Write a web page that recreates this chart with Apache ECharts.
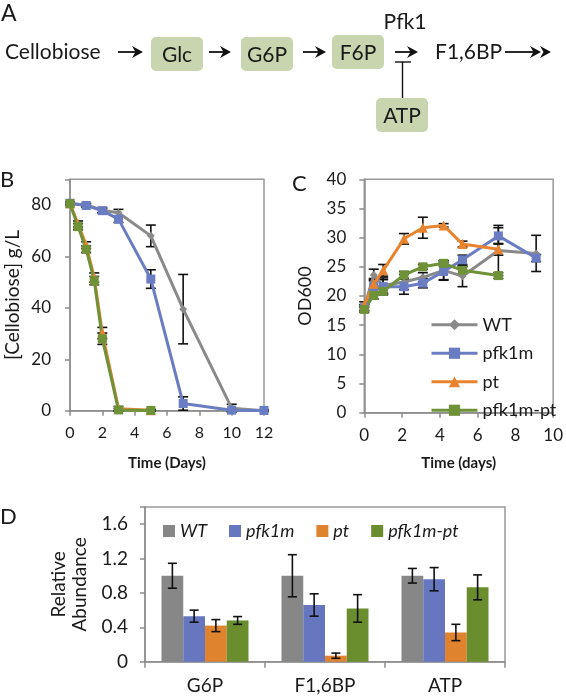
<!DOCTYPE html>
<html>
<head>
<meta charset="utf-8">
<script src="https://cdn.jsdelivr.net/npm/echarts@6/dist/echarts.min.js"></script>
<style>
html,body{margin:0;padding:0;background:#fff;}
#main{width:566px;height:697px;}
</style>
</head>
<body>
<div id="main"></div>
<script>
// ---------- DATA ----------
// Panel B: cellobiose consumption (g/L) vs time (days)
const bTimesLate = [0, 1, 2, 3, 5, 7, 10, 12];
const bTimesEarly = [0, 0.5, 1, 1.5, 2, 3, 5];
const bWT = [80.5, 80, 78, 77, 68, 39.5, 1, 0];
const bWTErr = [0.5, 0.6, 1, 1.3, 4.2, 13.5, 1.5, 0.3];
const bPfk1m = [80.7, 79.8, 77.8, 74.5, 51.2, 2.8, 0.2, 0.1];
const bPfk1mErr = [0.5, 0.6, 0.8, 1.3, 3.6, 2.6, 0.5, 0.3];
const bPt = [80.7, 72.6, 64.4, 51.8, 30.2, 0.8, 0.2];
const bPtErr = [0.5, 1.2, 1.3, 1.8, 2.2, 0.8, 0.3];
const bPfk1mPt = [80.5, 71.6, 62.8, 50.6, 28, 0.3, 0.1];
const bPfk1mPtErr = [0.5, 1.2, 1.3, 1.6, 2.2, 0.5, 0.3];

// Panel C: OD600 vs time (days)
const cTimes = [0, 0.5, 1, 2.1, 3.1, 4.2, 5.2, 7.1, 9.1];
const cWT = [18, 23.6, 21.8, 22.4, 23.2, 24.4, 23.4, 27.8, 27.3];
const cWTErr = [0.5, 1, 1.3, 1.3, 0.8, 1.6, 1.8, 4.3, 3.1];
const cPfk1m = [18, 21.6, 21.6, 21.6, 22.2, 24.2, 26.2, 30.3, 26.5];
const cPfk1mErr = [0.5, 1.2, 1.2, 1.3, 0.8, 1.5, 0.8, 1.4, 0.6];
const cPt = [18.5, 22.1, 24.4, 29.8, 31.7, 32.1, 28.9, 28];
const cPtErr = [0.5, 0.9, 1, 0.9, 1.8, 0.3, 0.5, 1];
const cPfk1mPt = [17.7, 20.1, 20.8, 23.6, 25, 25.6, 24.4, 23.5];
const cPfk1mPtErr = [0.5, 0.6, 0.6, 0.6, 0.4, 0.5, 0.6, 0.5];

// Panel D: relative metabolite abundance
const dCategories = ['G6P', 'F1,6BP', 'ATP'];
const dWT = [1.0, 1.0, 1.0];
const dWTErr = [0.145, 0.245, 0.085];
const dPfk1m = [0.53, 0.66, 0.96];
const dPfk1mErr = [0.07, 0.13, 0.135];
const dPt = [0.42, 0.07, 0.34];
const dPtErr = [0.07, 0.03, 0.095];
const dPfk1mPt = [0.48, 0.62, 0.865];
const dPfk1mPtErr = [0.045, 0.16, 0.145];

const seriesNames = ['WT', 'pfk1m', 'pt', 'pfk1m-pt'];
const bYTicks = [0, 20, 40, 60, 80];
const dYTicks = [0, 0.4, 0.8, 1.2, 1.6];

// ---------- STYLE ----------
const FONT = 'Lato, "Open Sans", sans-serif';
const TXT = '#1a1a1a';
const lineColors = ['#8a8a8a', '#6a7cc2', '#e8842f', '#6f9238'];
const barColors = ['#878787', '#6677bf', '#e0832e', '#6a8e2e'];
const symbols = ['diamond', 'rect', 'triangle', 'rect'];
const symbolSizes = [8, 9, 10, 9];
const BOX = '#c8d5ae';

const chart = echarts.init(document.getElementById('main'), null, {renderer: 'canvas'});

function pairs(xs, ys) { return ys.map((v, i) => [xs[i], v]); }
function errTriples(xs, ys, es) { return ys.map((v, i) => [xs[i], v - es[i], v + es[i]]); }

function errRender(capW) {
  return function (params, api) {
    const x = api.value(0), lo = api.value(1), hi = api.value(2);
    const p1 = api.coord([x, hi]), p2 = api.coord([x, lo]);
    const st = {stroke: '#111', lineWidth: 1.6};
    return {type: 'group', children: [
      {type: 'line', shape: {x1: p1[0], y1: p1[1], x2: p2[0], y2: p2[1]}, style: st},
      {type: 'line', shape: {x1: p1[0] - capW, y1: p1[1], x2: p1[0] + capW, y2: p1[1]}, style: st},
      {type: 'line', shape: {x1: p2[0] - capW, y1: p2[1], x2: p2[0] + capW, y2: p2[1]}, style: st}
    ]};
  };
}

const series = [];
// Panel B lines
const bSets = [
  [bTimesLate, bWT, bWTErr],
  [bTimesLate, bPfk1m, bPfk1mErr],
  [bTimesEarly, bPt, bPtErr],
  [bTimesEarly, bPfk1mPt, bPfk1mPtErr]
];
bSets.forEach((s, i) => {
  series.push({
    type: 'custom', xAxisIndex: 0, yAxisIndex: 0, z: 1, silent: true,
    renderItem: errRender(5), encode: {x: 0, y: [1, 2]},
    data: errTriples(s[0], s[1], s[2])
  });
});
bSets.forEach((s, i) => {
  series.push({
    name: seriesNames[i], type: 'line', xAxisIndex: 0, yAxisIndex: 0, z: 3,
    data: pairs(s[0], s[1]), symbol: symbols[i], symbolSize: symbolSizes[i],
    lineStyle: {width: 3, color: lineColors[i]}, itemStyle: {color: lineColors[i]},
    animation: false
  });
});
// Panel C lines
const cSets = [
  [cTimes, cWT, cWTErr],
  [cTimes, cPfk1m, cPfk1mErr],
  [cTimes, cPt, cPtErr],
  [cTimes, cPfk1mPt, cPfk1mPtErr]
];
cSets.forEach((s, i) => {
  series.push({
    type: 'custom', xAxisIndex: 1, yAxisIndex: 1, z: 1, silent: true,
    renderItem: errRender(5), encode: {x: 0, y: [1, 2]},
    data: errTriples(s[0], s[1], s[2])
  });
});
cSets.forEach((s, i) => {
  series.push({
    name: seriesNames[i], type: 'line', xAxisIndex: 1, yAxisIndex: 1, z: 3,
    data: pairs(s[0], s[1]), symbol: symbols[i], symbolSize: symbolSizes[i],
    lineStyle: {width: 3, color: lineColors[i]}, itemStyle: {color: lineColors[i]},
    animation: false
  });
});
// Panel D bars
const dSets = [[dWT, dWTErr], [dPfk1m, dPfk1mErr], [dPt, dPtErr], [dPfk1mPt, dPfk1mPtErr]];
const CAT_GAP = 0.275;
dSets.forEach((s, i) => {
  series.push({
    name: seriesNames[i], type: 'bar', xAxisIndex: 2, yAxisIndex: 2,
    data: s[0], barGap: '0%', barCategoryGap: (CAT_GAP * 100) + '%',
    itemStyle: {color: barColors[i]}, animation: false
  });
});
const dErrData = [];
dSets.forEach((s, g) => s[0].forEach((v, c) => dErrData.push([c, v - s[1][c], v + s[1][c], g])));
series.push({
  type: 'custom', xAxisIndex: 2, yAxisIndex: 2, z: 5, silent: true,
  encode: {x: 0, y: [1, 2]}, data: dErrData,
  renderItem: function (params, api) {
    const c = api.value(0), lo = api.value(1), hi = api.value(2), g = api.value(3);
    const catW = api.size([1, 0])[0];
    const bw = catW * (1 - CAT_GAP) / 4;
    const p1 = api.coord([c, hi]), p2 = api.coord([c, lo]);
    const x = p1[0] + (g - 1.5) * bw;
    const cap = 4.5;
    const st = {stroke: '#111', lineWidth: 1.6};
    return {type: 'group', children: [
      {type: 'line', shape: {x1: x, y1: p1[1], x2: x, y2: p2[1]}, style: st},
      {type: 'line', shape: {x1: x - cap, y1: p1[1], x2: x + cap, y2: p1[1]}, style: st},
      {type: 'line', shape: {x1: x - cap, y1: p2[1], x2: x + cap, y2: p2[1]}, style: st}
    ]};
  }
});

const axisLineStyle = {lineStyle: {color: '#8c8c8c', width: 1.5}};
const tickStyle = {show: true, inside: false, length: 5, lineStyle: {color: '#8c8c8c', width: 1.5}};
const labelBase = {color: TXT, fontFamily: FONT, fontSize: 16};

// ---------- PANEL A DIAGRAM ----------
function arrow(x1, x2, y) {
  return [
    {type: 'line', shape: {x1: x1, y1: y, x2: x2 - 4, y2: y}, style: {stroke: '#111', lineWidth: 1.8}},
    {type: 'polygon', shape: {points: [[x2, y], [x2 - 11, y - 6], [x2 - 7.5, y], [x2 - 11, y + 6]]}, style: {fill: '#111'}}
  ];
}
function box(x, y, w, h, label) {
  return [
    {type: 'rect', shape: {x: x, y: y, width: w, height: h, r: 5}, style: {fill: BOX}},
    {type: 'text', style: {text: label, x: x + w / 2, y: y + h / 2 + 1, textAlign: 'center', textVerticalAlign: 'middle', font: '21px ' + FONT, fill: TXT}}
  ];
}
function txt(s, x, y, size, align, extra) {
  return Object.assign({type: 'text', style: {text: s, x: x, y: y, textAlign: align || 'left', textVerticalAlign: 'middle', font: size + 'px ' + FONT, fill: TXT}}, extra || {});
}
const graphics = [].concat(
  [txt('A', 1, 14, 23)],
  [txt('Cellobiose', 5, 52, 21)],
  arrow(118, 143, 52),
  box(151, 37, 52, 34, 'Glc'),
  arrow(209, 231, 52),
  box(241, 37, 52, 34, 'G6P'),
  arrow(303, 326, 52),
  box(332, 35, 52, 34, 'F6P'),
  arrow(395, 418, 52),
  [txt('Pfk1', 405, 22, 21, 'center')],
  [{type: 'line', shape: {x1: 395, y1: 62, x2: 411, y2: 62}, style: {stroke: '#111', lineWidth: 1.4}},
   {type: 'line', shape: {x1: 402.5, y1: 62, x2: 402.5, y2: 98}, style: {stroke: '#111', lineWidth: 1.4}}],
  box(376, 98, 52, 34, 'ATP'),
  [txt('F1,6BP', 435, 52, 21)],
  arrow(505, 541, 52),
  [{type: 'polygon', shape: {points: [[551, 52], [540, 46], [543.5, 52], [540, 58]]}, style: {fill: '#111'}}],
  [txt('B', 0, 180, 22)],
  [txt('C', 292, 184, 22)],
  [txt('D', 0, 517, 22)]
);

const option = {
  backgroundColor: '#fff',
  animation: false,
  textStyle: {fontFamily: FONT},
  graphic: graphics,
  grid: [
    {left: 70, top: 179.3, width: 194, height: 231.4, show: true, borderColor: '#999', borderWidth: 1.5, backgroundColor: 'transparent'},
    {left: 364.3, top: 179.3, width: 192.4, height: 233.4, show: true, borderColor: '#999', borderWidth: 1.5, backgroundColor: 'transparent'},
    {left: 145, top: 507, width: 360, height: 154.7, show: true, borderColor: '#999', borderWidth: 1.5, backgroundColor: 'transparent'}
  ],
  xAxis: [
    {gridIndex: 0, type: 'value', min: 0, max: 12, interval: 2, axisLine: axisLineStyle, axisTick: tickStyle, splitLine: {show: false},
     axisLabel: Object.assign({margin: 14}, labelBase),
     name: 'Time (Days)', nameLocation: 'middle', nameGap: 45, nameTextStyle: {color: TXT, fontFamily: FONT, fontSize: 15, fontWeight: 'bold'}},
    {gridIndex: 1, type: 'value', min: 0, max: 10, interval: 2, axisLine: axisLineStyle, axisTick: tickStyle, splitLine: {show: false},
     axisLabel: Object.assign({margin: 14}, labelBase, {fontSize: 17}),
     name: 'Time (days)', nameLocation: 'middle', nameGap: 43, nameTextStyle: {color: TXT, fontFamily: FONT, fontSize: 15, fontWeight: 'bold'}},
    {gridIndex: 2, type: 'category', data: dCategories, axisLine: axisLineStyle,
     axisTick: {show: true, length: 6, lineStyle: {color: '#8c8c8c', width: 1.5}},
     axisLabel: Object.assign({}, labelBase, {fontSize: 19, margin: 15})}
  ],
  yAxis: [
    {gridIndex: 0, type: 'value', min: 0, max: 90, interval: 20, axisLine: Object.assign({show: true}, axisLineStyle), axisTick: tickStyle, splitLine: {show: false},
     axisLabel: Object.assign({margin: 19, formatter: v => (bYTicks.indexOf(v) >= 0 ? String(v) : '')}, labelBase, {fontSize: 17}),
     name: '[Cellobiose] g/L', nameLocation: 'middle', nameGap: 48, nameTextStyle: {color: TXT, fontFamily: FONT, fontSize: 19}},
    {gridIndex: 1, type: 'value', min: 0, max: 40, interval: 5, axisLine: Object.assign({show: true}, axisLineStyle), axisTick: tickStyle, splitLine: {show: false},
     axisLabel: Object.assign({margin: 18}, labelBase, {fontSize: 17}),
     name: 'OD600', nameLocation: 'middle', nameGap: 50, nameTextStyle: {color: TXT, fontFamily: FONT, fontSize: 18}},
    {gridIndex: 2, type: 'value', min: 0, max: 1.8, interval: 0.4, axisLine: Object.assign({show: true}, axisLineStyle), axisTick: tickStyle, splitLine: {show: false},
     axisLabel: Object.assign({margin: 17, formatter: v => (dYTicks.some(t => Math.abs(t - v) < 1e-6) ? String(Math.round(v * 10) / 10) : '')}, labelBase, {fontSize: 19}),
     name: 'Relative\nAbundance', nameLocation: 'middle', nameGap: 52, nameTextStyle: {color: TXT, fontFamily: FONT, fontSize: 19, lineHeight: 21}}
  ],
  legend: [
    {orient: 'vertical', left: 425, top: 309, itemWidth: 46, itemHeight: 14, itemGap: 7,
     data: seriesNames.map((n, i) => ({name: n, itemStyle: {color: lineColors[i]}, lineStyle: {color: lineColors[i], width: 3}})),
     textStyle: {color: TXT, fontFamily: FONT, fontSize: 18, lineHeight: 21.5}, selectedMode: false},
    {orient: 'horizontal', left: 158, top: 517, itemWidth: 12, itemHeight: 12, itemGap: 22, icon: 'rect',
     data: seriesNames.map((n, i) => ({name: n, itemStyle: {color: barColors[i]}})),
     textStyle: {color: TXT, fontFamily: FONT, fontSize: 18, fontStyle: 'italic'}, selectedMode: false}
  ],
  series: series
};
chart.setOption(option);
</script>
</body>
</html>
